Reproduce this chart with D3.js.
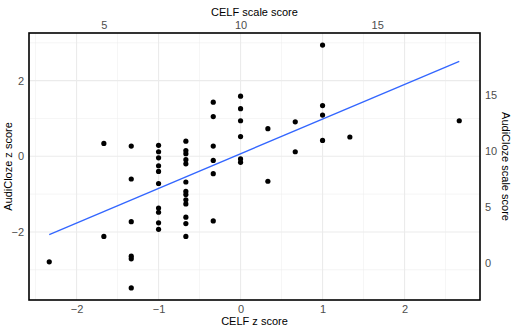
<!DOCTYPE html>
<html><head><meta charset="utf-8">
<script src="https://cdn.jsdelivr.net/npm/d3@7"></script>
<style>
html,body{margin:0;padding:0;background:#fff;}
text{font-family:"Liberation Sans",Arial,sans-serif;}
</style></head>
<body><svg id="c" width="512" height="328"></svg>
<script>
// CELF z score (x) for each child
const celfZ = [
  -2.333,
  -1.667, -1.667,
  -1.333, -1.333, -1.333, -1.333, -1.333, -1.333,
  -1, -1, -1, -1, -1, -1, -1, -1, -1, -1,
  -0.667, -0.667, -0.667, -0.667, -0.667, -0.667, -0.667, -0.667, -0.667, -0.667, -0.667, -0.667, -0.667,
  -0.333, -0.333, -0.333, -0.333, -0.333, -0.333,
  0, 0, 0, 0, 0, 0,
  0.333, 0.333,
  0.667, 0.667,
  1, 1, 1, 1,
  1.333,
  2.667
];
// AudiCloze z score (y) for each child
const audiZ = [
  -2.79,
  0.34, -2.12,
  0.27, -0.60, -1.73, -2.64, -2.71, -3.48,
  0.29, 0.12, -0.04, -0.25, -0.40, -0.72, -1.37, -1.48, -1.76, -1.93,
  0.40, 0.15, 0.07, -0.09, -0.20, -0.68, -0.93, -1.01, -1.15, -1.26, -1.61, -1.78, -2.12,
  1.43, 1.05, 0.27, -0.11, -0.46, -1.71,
  1.59, 1.26, 0.94, 0.52, -0.07, -0.16,
  0.73, -0.66,
  0.91, 0.12,
  2.94, 1.34, 1.09, 0.42,
  0.51,
  0.94
];
// fitted line end points
const fitX = [-2.333, 2.667];
const fitY = [-2.07, 2.51];

const xTicks = [-2, -1, 0, 1, 2];
const yTicks = [-2, 0, 2];
const topTicks = [5, 10, 15];      // CELF scale score
const rightTicks = [0, 5, 10, 15]; // AudiCloze scale score
const celfMean = 10, celfSD = 3;
const audiMean = 9.5, audiSD = 3.37;

const svg = d3.select("#c");
const L = 29, R = 480, T = 33, B = 300;
const x = d3.scaleLinear().domain([-2.58, 2.92]).range([L, R]);
const y = d3.scaleLinear().domain([-3.80, 3.26]).range([B, T]);
const xTop = d3.scaleLinear().domain(x.domain().map(d => celfMean + celfSD * d)).range([L, R]);
const yRight = d3.scaleLinear().domain(y.domain().map(d => audiMean + audiSD * d)).range([B, T]);

const g = svg.append("g");
// minor grid
const xMinor = d3.range(-2.5, 3, 1);
const yMinor = [-3, -1, 1, 3];
g.selectAll(".vmin").data(xMinor).join("line")
  .attr("x1", d => x(d)).attr("x2", d => x(d)).attr("y1", T).attr("y2", B)
  .attr("stroke", "#efefef").attr("stroke-width", 0.6);
g.selectAll(".hmin").data(yMinor).join("line")
  .attr("y1", d => y(d)).attr("y2", d => y(d)).attr("x1", L).attr("x2", R)
  .attr("stroke", "#efefef").attr("stroke-width", 0.6);
// major grid
g.selectAll(".vmaj").data(xTicks).join("line")
  .attr("x1", d => x(d)).attr("x2", d => x(d)).attr("y1", T).attr("y2", B)
  .attr("stroke", "#ebebeb").attr("stroke-width", 1.1);
g.selectAll(".hmaj").data(yTicks).join("line")
  .attr("y1", d => y(d)).attr("y2", d => y(d)).attr("x1", L).attr("x2", R)
  .attr("stroke", "#ebebeb").attr("stroke-width", 1.1);

// points
g.selectAll("circle").data(celfZ.map((d, i) => [d, audiZ[i]])).join("circle")
  .attr("cx", d => x(d[0])).attr("cy", d => y(d[1])).attr("r", 2.6).attr("fill", "#000");

// fit line
g.append("path").datum(fitX.map((d, i) => [d, fitY[i]]))
  .attr("d", d3.line().x(d => x(d[0])).y(d => y(d[1])))
  .attr("fill", "none").attr("stroke", "#3366FF").attr("stroke-width", 1.3);

// border
svg.append("rect").attr("x", L).attr("y", T).attr("width", R - L).attr("height", B - T)
  .attr("fill", "none").attr("stroke", "#000").attr("stroke-width", 1.6);

// axes
function styleAxis(sel) {
  sel.select(".domain").remove();
  sel.selectAll(".tick line").remove();
  sel.selectAll(".tick text").attr("fill", "#4d4d4d").style("font-size", "11px")
    .style("font-family", "'Liberation Sans',Arial,sans-serif");
}
svg.append("g").attr("transform", `translate(0,${B})`)
  .call(d3.axisBottom(x).tickValues(xTicks).tickSize(0).tickPadding(5).tickFormat(d3.format("d")))
  .call(styleAxis);
svg.append("g").attr("transform", `translate(0,${T})`)
  .call(d3.axisTop(xTop).tickValues(topTicks).tickSize(0).tickPadding(4).tickFormat(d3.format("d")))
  .call(styleAxis);
svg.append("g").attr("transform", `translate(${L},0)`)
  .call(d3.axisLeft(y).tickValues(yTicks).tickSize(0).tickPadding(5).tickFormat(d3.format("d")))
  .call(styleAxis);
svg.append("g").attr("transform", `translate(${R},0)`)
  .call(d3.axisRight(yRight).tickValues(rightTicks).tickSize(0).tickPadding(5).tickFormat(d3.format("d")))
  .call(styleAxis);

// titles
const tf = s => s.style("font-size", "11px").attr("fill", "#000").attr("text-anchor", "middle");
svg.append("text").attr("x", (L + R) / 2).attr("y", 16).text("CELF scale score").call(tf);
svg.append("text").attr("x", (L + R) / 2).attr("y", 325).text("CELF z score").call(tf);
svg.append("text").attr("transform", `translate(12,${(T + B) / 2}) rotate(-90)`).text("AudiCloze z score").call(tf);
svg.append("text").attr("transform", `translate(502,${(T + B) / 2}) rotate(90)`).text("AudiCloze scale score").call(tf);
</script></body></html>
